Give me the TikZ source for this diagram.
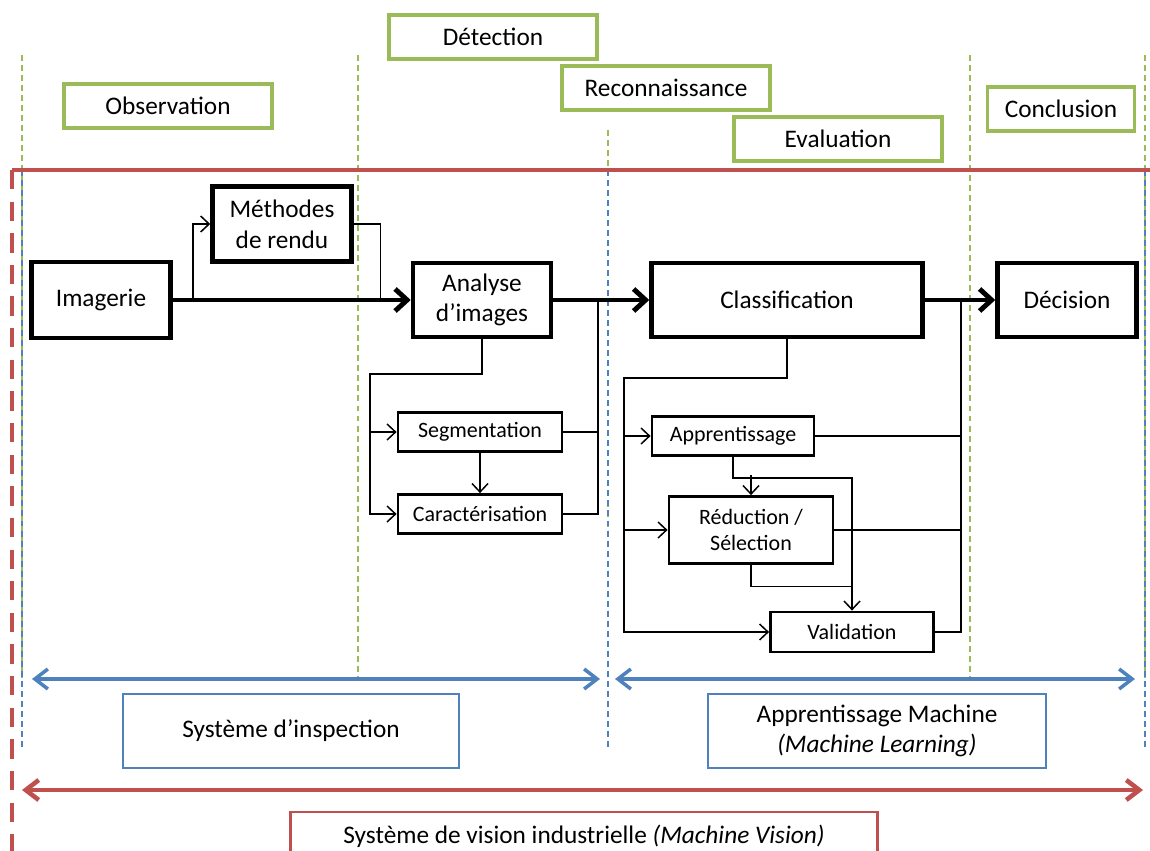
\documentclass[tikz,border=0pt]{standalone}
\usepackage{fontspec}
\setmainfont{Carlito}
\usetikzlibrary{calc,arrows.meta}
\definecolor{phasegreen}{HTML}{9BBB59}
\definecolor{sysblue}{HTML}{4F81BD}
\definecolor{visred}{HTML}{C0504D}
\begin{document}
\begin{tikzpicture}[x=0.02cm,y=-0.02cm,
    bigbox/.style={draw,line width=2.6pt,inner sep=0pt,align=center,
      font=\fontsize{14.4}{17.5}\selectfont},
    smallbox/.style={draw,line width=1.6pt,inner sep=0pt,align=center,
      font=\fontsize{12.5}{15.3}\selectfont},
    phase/.style={draw=phasegreen,line width=2pt,inner sep=0pt,
      minimum width=4.16cm,minimum height=0.88cm,
      font=\fontsize{14.4}{17.5}\selectfont},
    sysbox/.style={draw=sysblue,line width=1.6pt,inner sep=0pt,align=center,
      minimum width=6.72cm,minimum height=1.48cm,
      font=\fontsize{14.4}{17.5}\selectfont},
    conn/.style={line width=0.85pt},
    tip/.style={-{Straight Barb[length=1.7mm,width=3.2mm]}},
    mainarrow/.style={line width=2.8pt,-{Straight Barb[length=2.4mm,width=4.4mm]}},
    gdash/.style={phasegreen,line width=0.7pt,dash pattern=on 3.4pt off 2.3pt},
    bdash/.style={sysblue,line width=0.7pt,dash pattern=on 3.4pt off 2.3pt},
    span/.style={line width=2pt,{Straight Barb[length=2.6mm,width=4mm]}-{Straight Barb[length=2.6mm,width=4mm]}}]
  \clip (0,0) rectangle (1150,851);
  \useasboundingbox (0,0) rectangle (1150,851);

  % dashed limits of the phases
  \foreach \x/\ya in {22/55,358/55,608/130,970/55,1145/55}
    \draw[gdash] (\x,\ya) -- (\x,678);
  \foreach \x in {22,608,1145}
    \draw[bdash] (\x,170) -- (\x,750);

  % vision system frame
  \draw[visred,line width=2pt] (12,170) -- (1150,170);
  \draw[visred,line width=2.5pt,dash pattern=on 11pt off 7pt] (12,170) -- (12,851);

  % phases
  \node[phase] (obs) at (168,106) {Observation};
  \node[phase] (detect) at (493,37) {Détection};
  \node[phase] (recon) at (666,88) {Reconnaissance};
  \node[phase] (evalu) at (838,139) {Evaluation};
  \node[phase,minimum width=2.94cm] (concl) at (1061,109) {Conclusion};

  % main chain
  \node[bigbox,minimum width=2.78cm,minimum height=1.52cm] (imagerie) at (101,300) {Imagerie};
  \node[bigbox,minimum width=2.78cm,minimum height=1.5cm] (rendu) at (282,224) {Méthodes\\de rendu};
  \node[bigbox,minimum width=2.76cm,minimum height=1.48cm] (analyse) at (482,300) {Analyse\\d’images};
  \node[bigbox,minimum width=5.42cm,minimum height=1.48cm] (classif) at (787,300) {Classification};
  \node[bigbox,minimum width=2.78cm,minimum height=1.48cm] (decision) at (1067,300) {Décision};

  \node[smallbox,minimum width=3.28cm,minimum height=0.78cm] (segm) at (480,432) {Segmentation};
  \node[smallbox,minimum width=3.28cm,minimum height=0.78cm] (carac) at (480,514) {Caractérisation};
  \node[smallbox,minimum width=3.24cm,minimum height=0.78cm] (apprent) at (733,436) {Apprentissage};
  \node[smallbox,minimum width=3.28cm,minimum height=1.34cm] (reduc) at (751,530) {Réduction /\\Sélection};
  \node[smallbox,minimum width=3.26cm,minimum height=0.8cm] (valid) at (852,632) {Validation};

  \draw[mainarrow] (imagerie) -- (analyse);
  \draw[mainarrow] (analyse) -- (classif);
  \draw[mainarrow] (classif) -- (decision);

  \draw[conn,tip] ($(imagerie.east)+(20,0)$) |- (rendu.west);
  \draw[conn] (rendu.east) -| ($(analyse.west)+(-30,0)$);

  % image analysis
  \coordinate (aleft) at (370,374);
  \coordinate (aright) at (598,300);
  \draw[conn,tip] (analyse.south) |- (aleft) |- (carac.west);
  \draw[conn,tip] (aleft |- segm.west) -- (segm.west);
  \draw[conn,tip] (segm) -- (carac);
  \draw[conn] (segm.east) -| (aright);
  \draw[conn] (carac.east) -| (aright);

  % machine learning
  \coordinate (cleft) at (624,378);
  \coordinate (cright) at (961,300);
  \draw[conn,tip] (classif.south) |- (cleft) |- (valid.west);
  \draw[conn,tip] (cleft |- apprent.west) -- (apprent.west);
  \draw[conn,tip] (cleft |- reduc.west) -- (reduc.west);
  \draw[conn,tip] (apprent.south) -- ++(0,21) -| (valid.north);
  \draw[conn,tip] ($(reduc.north)+(0,-20)$) -- (reduc.north);
  \draw[conn] (reduc.south) |- ($(valid.north)+(0,-24)$);
  \draw[conn] (apprent.east) -| (cright);
  \draw[conn] (reduc.east) -| (cright);
  \draw[conn] (valid.east) -| (cright);

  % systems
  \coordinate (insp1) at (32,679);
  \coordinate (insp2) at (600,679);
  \coordinate (ml1) at (615,679);
  \coordinate (ml2) at (1135,679);
  \coordinate (vis1) at (22,790);
  \coordinate (vis2) at (1143,790);
  \draw[span,sysblue] (insp1) -- (insp2);
  \draw[span,sysblue] (ml1) -- (ml2);
  \draw[span,visred,line width=2.6pt] (vis1) -- (vis2);

  \node[sysbox] (inspect) at (291,731) {Système d’inspection};
  \node[sysbox,minimum width=6.76cm] (apprmach) at (877,731) {Apprentissage Machine\\\textit{(Machine Learning)}};
  \node[sysbox,draw=visred,minimum width=11.74cm,minimum height=0.96cm] (vision) at (584,836)
    {Système de vision industrielle \textit{(Machine Vision)}};
\end{tikzpicture}
\end{document}
